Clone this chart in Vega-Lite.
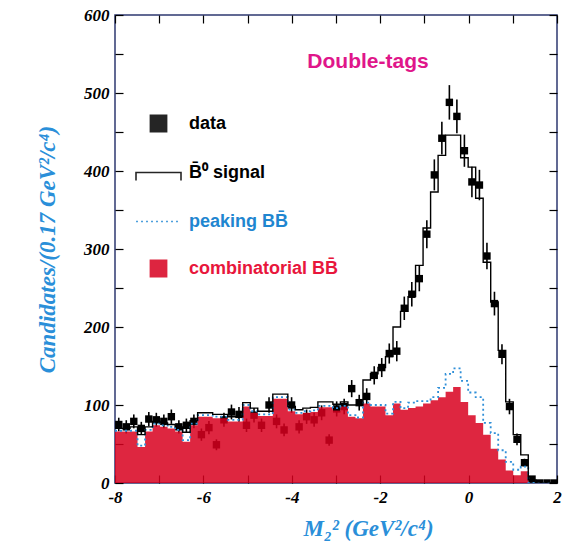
{
  "$schema": "https://vega.github.io/schema/vega-lite/v6.json",
  "width": 442,
  "height": 468,
  "autosize": {"type": "none"},
  "padding": {"left": 115, "top": 15, "right": 13, "bottom": 58},
  "background": "white",
  "title": {"text": "Double-tags", "font": "Liberation Sans", "fontSize": 21, "fontWeight": "bold", "color": "#e0168a", "anchor": "middle", "frame": "group", "dx": 32, "offset": -66},
  "config": {
    "view": {"stroke": "#2e3870", "strokeWidth": 1.5},
    "axis": {"grid": false, "labelFont": "Liberation Serif", "labelFontSize": 17, "labelFontWeight": "bold", "labelFontStyle": "italic", "labelColor": "black", "titleFont": "Liberation Serif", "titleFontSize": 23, "titleFontWeight": "bold", "titleFontStyle": "italic", "titleColor": "#2a8fd9", "tickColor": "black", "tickWidth": 1.2, "domainColor": "#2e3870"}
  },
  "data": {"values": [
    {"lo": -8.00, "hi": -7.83, "m": -7.915, "data": 75, "dlo": 66.3, "dhi": 83.7, "comb": 66, "peak": 67, "total": 70},
    {"lo": -7.83, "hi": -7.66, "m": -7.745, "data": 72, "dlo": 63.5, "dhi": 80.5, "comb": 66, "peak": 67, "total": 70},
    {"lo": -7.66, "hi": -7.49, "m": -7.575, "data": 79, "dlo": 70.1, "dhi": 87.9, "comb": 66, "peak": 67, "total": 72},
    {"lo": -7.49, "hi": -7.32, "m": -7.405, "data": 70, "dlo": 61.6, "dhi": 78.4, "comb": 46, "peak": 48, "total": 62},
    {"lo": -7.32, "hi": -7.15, "m": -7.235, "data": 82, "dlo": 72.9, "dhi": 91.1, "comb": 66, "peak": 68, "total": 72},
    {"lo": -7.15, "hi": -6.98, "m": -7.065, "data": 81, "dlo": 72.0, "dhi": 90.0, "comb": 74, "peak": 76, "total": 79},
    {"lo": -6.98, "hi": -6.81, "m": -6.895, "data": 79, "dlo": 70.1, "dhi": 87.9, "comb": 72, "peak": 74, "total": 77},
    {"lo": -6.81, "hi": -6.64, "m": -6.725, "data": 85, "dlo": 75.8, "dhi": 94.2, "comb": 70, "peak": 72, "total": 75},
    {"lo": -6.64, "hi": -6.47, "m": -6.555, "data": 72, "dlo": 63.5, "dhi": 80.5, "comb": 66, "peak": 68, "total": 72},
    {"lo": -6.47, "hi": -6.30, "m": -6.385, "data": 74, "dlo": 65.4, "dhi": 82.6, "comb": 53, "peak": 55, "total": 65},
    {"lo": -6.30, "hi": -6.13, "m": -6.215, "data": 79, "dlo": 70.1, "dhi": 87.9, "comb": 74, "peak": 76, "total": 80},
    {"lo": -6.13, "hi": -5.96, "m": -6.045, "data": 62, "dlo": 54.1, "dhi": 69.9, "comb": 85, "peak": 87, "total": 90},
    {"lo": -5.96, "hi": -5.79, "m": -5.875, "data": 71, "dlo": 62.6, "dhi": 79.4, "comb": 85, "peak": 87, "total": 90},
    {"lo": -5.79, "hi": -5.62, "m": -5.705, "data": 49, "dlo": 42.0, "dhi": 56.0, "comb": 83, "peak": 85, "total": 88},
    {"lo": -5.62, "hi": -5.45, "m": -5.535, "data": 81, "dlo": 72.0, "dhi": 90.0, "comb": 83, "peak": 85, "total": 88},
    {"lo": -5.45, "hi": -5.28, "m": -5.365, "data": 91, "dlo": 81.5, "dhi": 100.5, "comb": 79, "peak": 81, "total": 85},
    {"lo": -5.28, "hi": -5.11, "m": -5.195, "data": 88, "dlo": 78.6, "dhi": 97.4, "comb": 79, "peak": 81, "total": 85},
    {"lo": -5.11, "hi": -4.94, "m": -5.025, "data": 74, "dlo": 65.4, "dhi": 82.6, "comb": 98, "peak": 100, "total": 103},
    {"lo": -4.94, "hi": -4.77, "m": -4.855, "data": 87, "dlo": 77.7, "dhi": 96.3, "comb": 90, "peak": 92, "total": 96},
    {"lo": -4.77, "hi": -4.60, "m": -4.685, "data": 74, "dlo": 65.4, "dhi": 82.6, "comb": 86, "peak": 88, "total": 92},
    {"lo": -4.60, "hi": -4.43, "m": -4.515, "data": 100, "dlo": 90.0, "dhi": 110.0, "comb": 86, "peak": 88, "total": 92},
    {"lo": -4.43, "hi": -4.26, "m": -4.345, "data": 79, "dlo": 70.1, "dhi": 87.9, "comb": 108, "peak": 110, "total": 114},
    {"lo": -4.26, "hi": -4.09, "m": -4.175, "data": 68, "dlo": 59.8, "dhi": 76.2, "comb": 108, "peak": 110, "total": 114},
    {"lo": -4.09, "hi": -3.92, "m": -4.005, "data": 100, "dlo": 90.0, "dhi": 110.0, "comb": 92, "peak": 94, "total": 98},
    {"lo": -3.92, "hi": -3.75, "m": -3.835, "data": 72, "dlo": 63.5, "dhi": 80.5, "comb": 88, "peak": 90, "total": 94},
    {"lo": -3.75, "hi": -3.58, "m": -3.665, "data": 85, "dlo": 75.8, "dhi": 94.2, "comb": 90, "peak": 92, "total": 96},
    {"lo": -3.58, "hi": -3.41, "m": -3.495, "data": 81, "dlo": 72.0, "dhi": 90.0, "comb": 91, "peak": 93, "total": 97},
    {"lo": -3.41, "hi": -3.24, "m": -3.325, "data": 90, "dlo": 80.5, "dhi": 99.5, "comb": 97, "peak": 99, "total": 104},
    {"lo": -3.24, "hi": -3.07, "m": -3.155, "data": 55, "dlo": 47.6, "dhi": 62.4, "comb": 97, "peak": 99, "total": 104},
    {"lo": -3.07, "hi": -2.90, "m": -2.985, "data": 95, "dlo": 85.3, "dhi": 104.7, "comb": 93, "peak": 96, "total": 101},
    {"lo": -2.90, "hi": -2.73, "m": -2.815, "data": 98, "dlo": 88.1, "dhi": 107.9, "comb": 98, "peak": 99, "total": 104},
    {"lo": -2.73, "hi": -2.56, "m": -2.645, "data": 121, "dlo": 110.0, "dhi": 132.0, "comb": 85, "peak": 87, "total": 100},
    {"lo": -2.56, "hi": -2.39, "m": -2.475, "data": 103, "dlo": 92.9, "dhi": 113.1, "comb": 83, "peak": 84, "total": 100},
    {"lo": -2.39, "hi": -2.22, "m": -2.305, "data": 111, "dlo": 100.5, "dhi": 121.5, "comb": 102, "peak": 103, "total": 132},
    {"lo": -2.22, "hi": -2.05, "m": -2.135, "data": 138, "dlo": 126.3, "dhi": 149.7, "comb": 98, "peak": 100, "total": 140},
    {"lo": -2.05, "hi": -1.88, "m": -1.965, "data": 148, "dlo": 135.8, "dhi": 160.2, "comb": 98, "peak": 100, "total": 148},
    {"lo": -1.88, "hi": -1.71, "m": -1.795, "data": 166, "dlo": 153.1, "dhi": 178.9, "comb": 87, "peak": 89, "total": 162},
    {"lo": -1.71, "hi": -1.54, "m": -1.625, "data": 169, "dlo": 156.0, "dhi": 182.0, "comb": 102, "peak": 104, "total": 200},
    {"lo": -1.54, "hi": -1.37, "m": -1.455, "data": 224, "dlo": 209.0, "dhi": 239.0, "comb": 94, "peak": 96, "total": 220},
    {"lo": -1.37, "hi": -1.20, "m": -1.285, "data": 242, "dlo": 226.4, "dhi": 257.6, "comb": 96, "peak": 103, "total": 239},
    {"lo": -1.20, "hi": -1.03, "m": -1.115, "data": 262, "dlo": 245.8, "dhi": 278.2, "comb": 98, "peak": 105, "total": 279},
    {"lo": -1.03, "hi": -0.86, "m": -0.945, "data": 319, "dlo": 301.1, "dhi": 336.9, "comb": 102, "peak": 105, "total": 327},
    {"lo": -0.86, "hi": -0.69, "m": -0.775, "data": 395, "dlo": 375.1, "dhi": 414.9, "comb": 106, "peak": 110, "total": 373},
    {"lo": -0.69, "hi": -0.52, "m": -0.605, "data": 442, "dlo": 421.0, "dhi": 463.0, "comb": 110, "peak": 122, "total": 420},
    {"lo": -0.52, "hi": -0.35, "m": -0.435, "data": 488, "dlo": 465.9, "dhi": 510.1, "comb": 117, "peak": 140, "total": 446},
    {"lo": -0.35, "hi": -0.18, "m": -0.265, "data": 470, "dlo": 448.3, "dhi": 491.7, "comb": 123, "peak": 147, "total": 446},
    {"lo": -0.18, "hi": -0.01, "m": -0.095, "data": 426, "dlo": 405.4, "dhi": 446.6, "comb": 104, "peak": 131, "total": 417},
    {"lo": -0.01, "hi": 0.16, "m": 0.075, "data": 386, "dlo": 366.4, "dhi": 405.6, "comb": 87, "peak": 116, "total": 405},
    {"lo": 0.16, "hi": 0.33, "m": 0.245, "data": 382, "dlo": 362.5, "dhi": 401.5, "comb": 77, "peak": 110, "total": 365},
    {"lo": 0.33, "hi": 0.50, "m": 0.415, "data": 291, "dlo": 273.9, "dhi": 308.1, "comb": 62, "peak": 77, "total": 283},
    {"lo": 0.50, "hi": 0.67, "m": 0.585, "data": 230, "dlo": 214.8, "dhi": 245.2, "comb": 44, "peak": 64, "total": 232},
    {"lo": 0.67, "hi": 0.84, "m": 0.755, "data": 165, "dlo": 152.2, "dhi": 177.8, "comb": 30, "peak": 42, "total": 170},
    {"lo": 0.84, "hi": 1.01, "m": 0.925, "data": 98, "dlo": 88.1, "dhi": 107.9, "comb": 16, "peak": 27, "total": 104},
    {"lo": 1.01, "hi": 1.18, "m": 1.095, "data": 56, "dlo": 48.5, "dhi": 63.5, "comb": 10, "peak": 17, "total": 62},
    {"lo": 1.18, "hi": 1.35, "m": 1.265, "data": 26, "dlo": 20.9, "dhi": 31.1, "comb": 15, "peak": 21, "total": 36},
    {"lo": 1.35, "hi": 1.52, "m": 1.435, "data": 5, "dlo": 2.8, "dhi": 7.2, "comb": 0, "peak": 0, "total": 4},
    {"lo": 1.52, "hi": 1.69, "m": 1.605, "data": 0, "dlo": 0, "dhi": 0, "comb": 0, "peak": 0, "total": 0},
    {"lo": 1.69, "hi": 1.86, "m": 1.775, "data": 0, "dlo": 0, "dhi": 0, "comb": 0, "peak": 0, "total": 0},
    {"lo": 1.86, "hi": 2.03, "m": 1.945, "data": 0, "dlo": 0, "dhi": 0, "comb": 0, "peak": 0, "total": 0}
  ]},
  "resolve": {"axis": {"x": "independent", "y": "independent"}},
  "layer": [
    {
      "mark": {"type": "rule", "color": "black", "strokeWidth": 1.6, "clip": true},
      "encoding": {
        "x": {"field": "m", "type": "quantitative",
          "scale": {"domain": [-8, 2], "nice": false, "zero": false},
          "axis": {"orient": "bottom", "title": "M₂² (GeV²/c⁴)", "values": [-8, -7, -6, -5, -4, -3, -2, -1, 0, 1, 2], "labelExpr": "datum.value % 2 == 0 ? '' + datum.value : ''", "tickSize": -8, "labelPadding": 14, "domain": false, "labelFlush": false, "titleX": 253, "titleY": 52, "titleBaseline": "alphabetic"}},
        "y": {"field": "dlo", "type": "quantitative",
          "scale": {"domain": [0, 600], "nice": false, "zero": true},
          "axis": {"orient": "left", "title": "Candidates/(0.17 GeV²/c⁴)", "values": [0, 50, 100, 150, 200, 250, 300, 350, 400, 450, 500, 550, 600], "labelExpr": "datum.value % 100 == 0 ? '' + datum.value : ''", "tickSize": -8, "labelPadding": 14, "domain": false, "labelFlush": false, "titlePadding": 24}},
        "y2": {"field": "dhi"}
      }
    },
    {
      "mark": {"type": "point", "shape": "square", "filled": true, "size": 55, "opacity": 1, "clip": true},
      "encoding": {
        "x": {"field": "m", "type": "quantitative", "axis": null},
        "y": {"field": "data", "type": "quantitative", "axis": null},
        "color": {"datum": "data", "type": "nominal",
          "scale": {"domain": ["data", "B̄⁰ signal", "peaking BB̄", "combinatorial BB̄"], "range": ["black", "black", "#2f8fd8", "#d8001f"]},
          "legend": {
            "title": null, "orient": "none", "legendX": 20, "legendY": 85, "padding": 0,
            "symbolSize": 2025, "symbolStrokeWidth": 1.6, "rowPadding": 14, "labelOffset": 7, "labelLimit": 400,
            "labelFont": "Liberation Sans", "labelFontSize": 18, "labelFontWeight": "bold",
            "symbolType": {"expr": "datum.value == 'data' || datum.value == 'combinatorial BB̄' ? 'M-0.36,-0.36H0.36V0.36H-0.36Z' : (datum.value == 'B̄⁰ signal' ? 'M-1,0.35V0H1V0.35V0H-1V0.35' : 'M-1,0H1')"},
            "symbolDash": {"expr": "datum.value == 'peaking BB̄' ? [2, 3] : [1, 0]"},
            "symbolOpacity": 1,
            "labelColor": {"expr": "datum.value == 'peaking BB̄' ? '#1f86d0' : (datum.value == 'combinatorial BB̄' ? '#e8163c' : 'black')"}
          }
        }
      }
    },
    {
      "mark": {"type": "area", "interpolate": "step-after", "opacity": 0.85, "clip": true},
      "encoding": {
        "x": {"field": "lo", "type": "quantitative", "axis": null},
        "y": {"field": "comb", "type": "quantitative", "axis": null},
        "color": {"datum": "combinatorial BB̄", "type": "nominal"}
      }
    },
    {
      "mark": {"type": "line", "interpolate": "step-after", "strokeWidth": 1.8, "strokeDash": [2, 3], "clip": true},
      "encoding": {
        "x": {"field": "lo", "type": "quantitative", "axis": null},
        "y": {"field": "peak", "type": "quantitative", "axis": null},
        "color": {"datum": "peaking BB̄", "type": "nominal"}
      }
    },
    {
      "mark": {"type": "line", "interpolate": "step-after", "strokeWidth": 1.4, "clip": true},
      "encoding": {
        "x": {"field": "lo", "type": "quantitative",
          "axis": {"orient": "top", "title": null, "labels": false, "values": [-8, -7, -6, -5, -4, -3, -2, -1, 0, 1, 2], "tickSize": -8, "domain": false}},
        "y": {"field": "total", "type": "quantitative",
          "axis": {"orient": "right", "title": null, "labels": false, "values": [0, 50, 100, 150, 200, 250, 300, 350, 400, 450, 500, 550, 600], "tickSize": -8, "domain": false}},
        "color": {"datum": "B̄⁰ signal", "type": "nominal"}
      }
    }
  ]
}
